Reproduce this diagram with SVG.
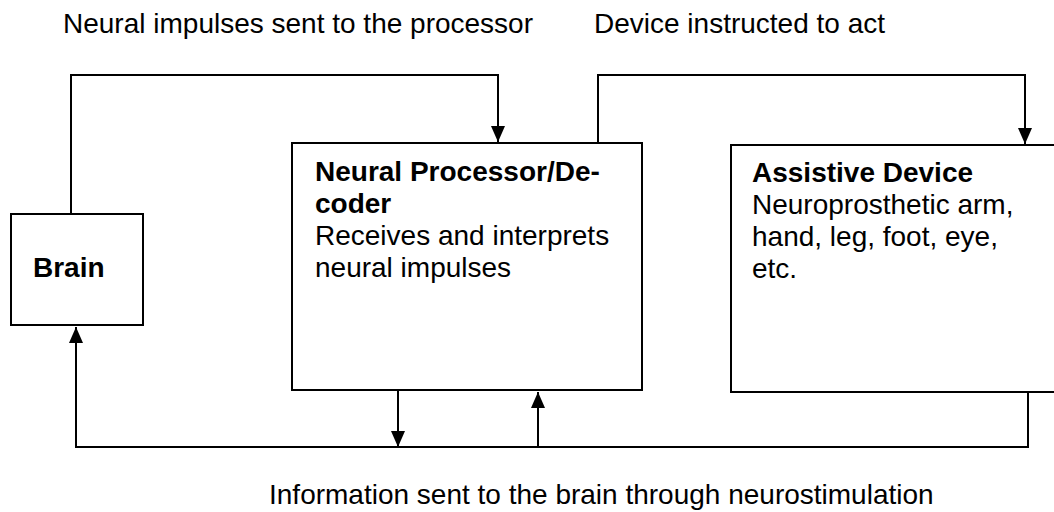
<svg xmlns="http://www.w3.org/2000/svg" width="1054" height="512" viewBox="0 0 1054 512">
  <defs>
    <style>
      .box { fill: #ffffff; stroke: #000000; stroke-width: 2; }
      .wire { fill: none; stroke: #000000; stroke-width: 2; }
      .txt { font-family: "Liberation Sans", Arial, sans-serif; font-size: 28px; fill: #000000; }
      .b { font-weight: bold; }
    </style>
    <marker id="arrow" viewBox="0 0 16 14" refX="16" refY="7" markerWidth="16" markerHeight="14" markerUnits="userSpaceOnUse" orient="auto">
      <path d="M0,0 L16,7 L0,14 Z" fill="#000000"/>
    </marker>
  </defs>

  <rect width="1054" height="512" fill="#ffffff"/>

  <!-- labels on the connectors -->
  <text class="txt" x="63" y="33">Neural impulses sent to the processor</text>
  <text class="txt" x="594" y="33">Device instructed to act</text>
  <text class="txt" x="269" y="504">Information sent to the brain through neurostimulation</text>

  <g id="connectors">
    <!-- brain to processor -->
    <path class="wire" d="M71,214 V75 H498 V142" marker-end="url(#arrow)"/>
    <!-- processor to device -->
    <path class="wire" d="M598,143 V75 H1025 V144" marker-end="url(#arrow)"/>
    <!-- feedback loop along the bottom -->
    <path class="wire" d="M1028,392 V447 H76 V327" marker-end="url(#arrow)"/>
    <path class="wire" d="M398,390 V447" marker-end="url(#arrow)"/>
    <path class="wire" d="M538,447 V392" marker-end="url(#arrow)"/>
  </g>

  <g id="brain">
    <rect class="box" x="11" y="214" width="132" height="111"/>
    <text class="txt b" x="33" y="277">Brain</text>
  </g>

  <g id="processor">
    <rect class="box" x="292" y="143" width="350" height="247"/>
    <text class="txt">
      <tspan class="b" x="315" y="181">Neural Processor/De-</tspan>
      <tspan class="b" x="315" y="213">coder</tspan>
      <tspan x="315" y="245">Receives and interprets</tspan>
      <tspan x="315" y="277">neural impulses</tspan>
    </text>
  </g>

  <g id="device">
    <rect class="box" x="731" y="145" width="340" height="247"/>
    <text class="txt">
      <tspan class="b" x="752" y="182">Assistive Device</tspan>
      <tspan x="752" y="214">Neuroprosthetic arm,</tspan>
      <tspan x="752" y="246">hand, leg, foot, eye,</tspan>
      <tspan x="752" y="278">etc.</tspan>
    </text>
  </g>
</svg>
